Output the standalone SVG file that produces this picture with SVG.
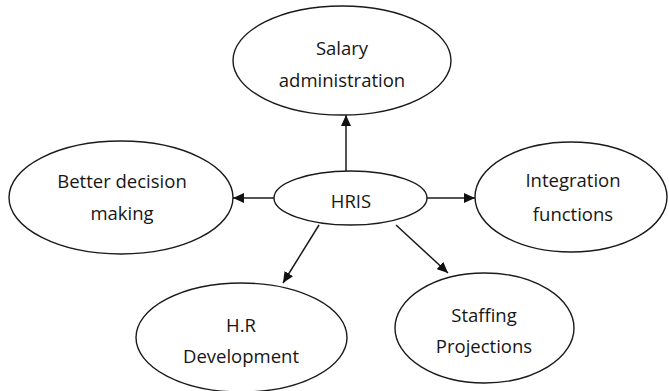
<svg xmlns="http://www.w3.org/2000/svg" width="669" height="391" viewBox="0 0 669 391">
  <style>
    .node ellipse { fill: #ffffff; stroke: #1a1a1a; stroke-width: 1.4; }
    .node text { font-family: "Open Sans", "Noto Sans", "Liberation Sans", sans-serif; font-size: 18.5px; fill: #161616; text-anchor: middle; }
    .edges line { stroke: #1a1a1a; stroke-width: 1.5; marker-end: url(#arrow); }
  </style>
  <defs>
    <marker id="arrow" viewBox="0 0 11 10" refX="11" refY="5" markerWidth="11" markerHeight="10" markerUnits="userSpaceOnUse" orient="auto">
      <path d="M0,0 L11,5 L0,10 z" fill="#111111"/>
    </marker>
  </defs>
  <rect width="669" height="391" fill="#ffffff"/>

  <g class="edges" id="connectors">
    <line x1="346" y1="171" x2="346" y2="115"/>
    <line x1="274" y1="198" x2="233" y2="198"/>
    <line x1="427" y1="198" x2="475" y2="198"/>
    <line x1="319" y1="225" x2="283" y2="283"/>
    <line x1="396" y1="225" x2="448" y2="273"/>
  </g>

  <g class="node" id="salary">
    <ellipse cx="342" cy="60.5" rx="109" ry="54.5"/>
    <text x="342" y="55">Salary</text>
    <text x="342" y="87">administration</text>
  </g>

  <g class="node" id="hris">
    <ellipse cx="350.5" cy="198" rx="76.5" ry="27"/>
    <text x="351" y="208">HRIS</text>
  </g>

  <g class="node" id="decision">
    <ellipse cx="121" cy="197.5" rx="112" ry="56.5"/>
    <text x="122" y="188">Better decision</text>
    <text x="122" y="220">making</text>
  </g>

  <g class="node" id="integration">
    <ellipse cx="571" cy="197" rx="96" ry="55"/>
    <text x="573" y="187">Integration</text>
    <text x="573" y="221">functions</text>
  </g>

  <g class="node" id="hr-development">
    <ellipse cx="241.5" cy="337.5" rx="105.5" ry="54.5"/>
    <text x="241" y="332">H.R</text>
    <text x="241" y="363">Development</text>
  </g>

  <g class="node" id="staffing">
    <ellipse cx="484.5" cy="328" rx="89.5" ry="55"/>
    <text x="484" y="322">Staffing</text>
    <text x="484" y="353">Projections</text>
  </g>
</svg>
